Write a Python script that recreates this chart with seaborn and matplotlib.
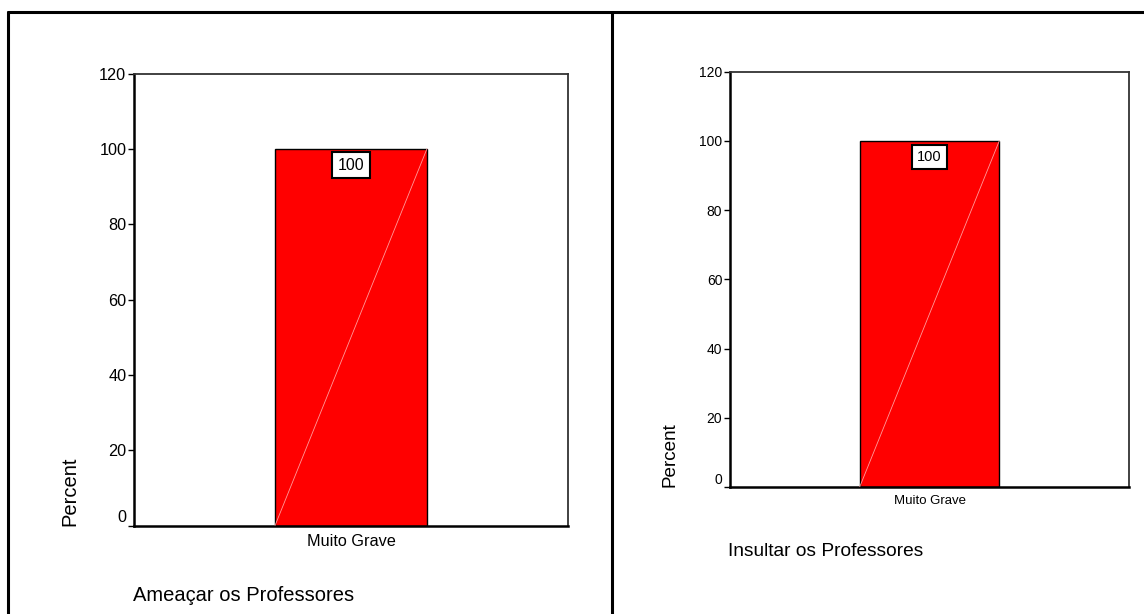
import matplotlib
matplotlib.use("Agg")
import matplotlib.pyplot as plt
from matplotlib.lines import Line2D
import seaborn as sns

# Data
categories = ["Muito Grave"]
ameacar_values = [100]
insultar_values = [100]
titles = ["Ameaçar os Professores", "Insultar os Professores"]
y_ticks = [0, 20, 40, 60, 80, 100, 120]

sns.set_style("white")
plt.rcParams["font.family"] = ["Liberation Sans", "DejaVu Sans"]

W, H = 1144, 614
fig = plt.figure(figsize=(W / 100, H / 100), dpi=100)


def px_rect(x0, x1, ytop, ybot):
    return [x0 / W, (H - ybot) / H, (x1 - x0) / W, (ybot - ytop) / H]


panels = [
    dict(values=ameacar_values, title=titles[0],
         rect=px_rect(134, 568, 73.5, 525.5), tick_fs=11.7, xtick_fs=11.7,
         label_fs=14.5, label_x=70, title_fs=14.5, title_x=133, title_base=600.7,
         box_fs=11.5),
    dict(values=insultar_values, title=titles[1],
         rect=px_rect(730, 1129, 71.5, 487), tick_fs=10, xtick_fs=9.5,
         label_fs=13.6, label_x=670.5, title_fs=13.8, title_x=728, title_base=556,
         box_fs=10.5),
]

for p in panels:
    ax = fig.add_axes(p["rect"])
    sns.barplot(x=categories, y=p["values"], ax=ax, color="#ff0000", saturation=1,
                width=0.35, edgecolor="black", linewidth=1)
    ax.set_xlim(-0.5, 0.5)
    ax.set_ylim(0, 120)
    ax.set_yticks(y_ticks)
    ax.set_ylabel("")
    ax.set_xlabel("")

    for side in ("top", "right"):
        ax.spines[side].set_color("#333333")
        ax.spines[side].set_linewidth(1.3)
    for side in ("left", "bottom"):
        ax.spines[side].set_color("black")
        ax.spines[side].set_linewidth(1.8)

    ax.tick_params(axis="y", left=True, length=4, width=1, pad=1.5,
                   labelsize=p["tick_fs"], colors="black")
    ax.tick_params(axis="x", bottom=False, length=0, pad=6,
                   labelsize=p["xtick_fs"], colors="black")
    # the zero label sits just above the baseline
    ax.get_yticklabels()[0].set_va("bottom")

    # faint diagonal across each bar and a boxed value label under its top
    for patch, v in zip(ax.patches, p["values"]):
        x0, y0 = patch.get_x(), patch.get_y()
        w, h = patch.get_width(), patch.get_height()
        ax.plot([x0, x0 + w], [y0, y0 + h], color="#ff9a9a", lw=0.6, zorder=3)
        ax.annotate(f"{v:g}", xy=(x0 + w / 2, v), xytext=(0, -6.5),
                    textcoords="offset points", ha="center", va="top",
                    fontsize=p["box_fs"], color="black", zorder=5,
                    bbox=dict(boxstyle="square,pad=0.35", fc="white",
                              ec="black", lw=1.5))

    fig.text(p["label_x"] / W, p["rect"][1], "Percent", rotation=90,
             ha="center", va="bottom", fontsize=p["label_fs"], color="black")
    fig.text(p["title_x"] / W, (H - p["title_base"]) / H, p["title"],
             ha="left", va="baseline", fontsize=p["title_fs"], color="black")

# outer frame lines and panel divider
frame_kw = dict(color="black", lw=2.2, transform=fig.transFigure)
fig.add_artist(Line2D([8 / W, 1.0], [1 - 12 / H, 1 - 12 / H], **frame_kw))
fig.add_artist(Line2D([8 / W, 8 / W], [0, 1 - 12 / H], **frame_kw))
fig.add_artist(Line2D([612 / W, 612 / W], [0, 1 - 12 / H], **frame_kw))

fig.savefig("out.png", dpi=100, facecolor="white")
